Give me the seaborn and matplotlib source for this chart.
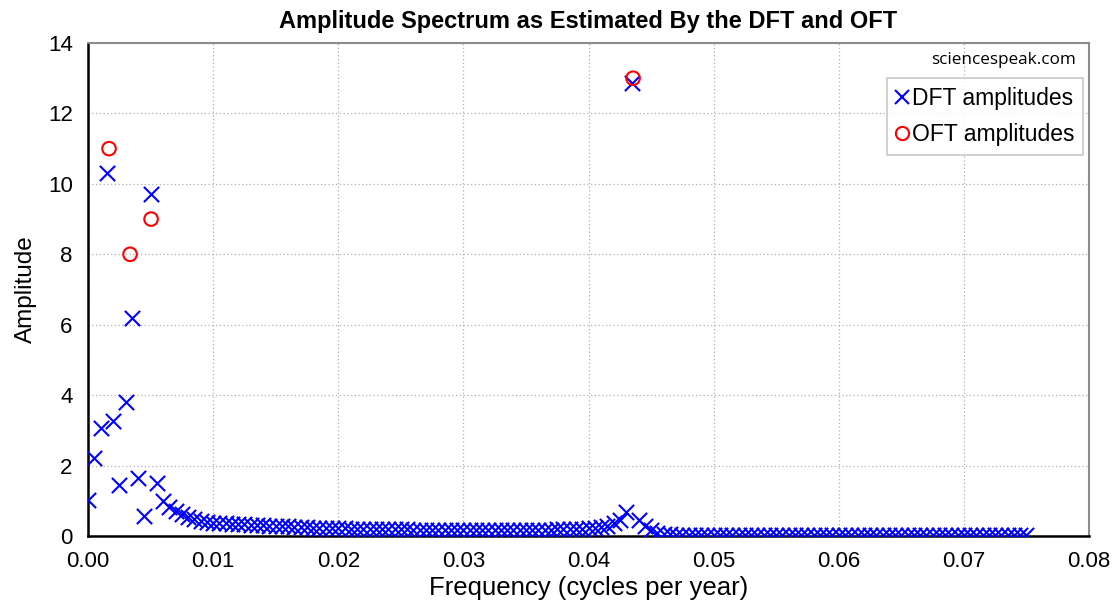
import numpy as np
import pandas as pd
import matplotlib
matplotlib.use("Agg")
import matplotlib.pyplot as plt
from matplotlib.lines import Line2D
from matplotlib.ticker import MultipleLocator, FormatStrFormatter
import seaborn as sns

# ---- data ----
freq_step = 0.0005
dft_amplitudes = [
    1.03, 2.22, 3.07, 10.3, 3.27, 1.45, 3.80, 6.18, 1.65, 0.58,
    9.70, 1.51, 1.00, 0.83, 0.72, 0.63, 0.55, 0.49, 0.44, 0.40,
    0.38, 0.37, 0.36, 0.35, 0.34, 0.33, 0.32, 0.31, 0.30, 0.29,
    0.28, 0.27, 0.27, 0.26, 0.25, 0.25, 0.24, 0.24, 0.23, 0.23,
    0.22, 0.22, 0.21, 0.21, 0.21, 0.20, 0.20, 0.20, 0.19, 0.19,
    0.19, 0.19, 0.18, 0.18, 0.18, 0.18, 0.18, 0.17, 0.17, 0.17,
    0.17, 0.17, 0.17, 0.17, 0.17, 0.17, 0.17, 0.17, 0.17, 0.17,
    0.17, 0.17, 0.18, 0.18, 0.18, 0.19, 0.19, 0.20, 0.20, 0.21,
    0.22, 0.23, 0.25, 0.28, 0.36, 0.46, 0.67, 12.85, 0.45, 0.27,
    0.16, 0.09, 0.06, 0.05, 0.04, 0.04, 0.04, 0.04, 0.04, 0.04,
    0.04, 0.04, 0.04, 0.04, 0.04, 0.04, 0.04, 0.04, 0.04, 0.04,
    0.04, 0.04, 0.04, 0.04, 0.04, 0.04, 0.04, 0.04, 0.04, 0.04,
    0.04, 0.04, 0.04, 0.04, 0.04, 0.04, 0.04, 0.04, 0.04, 0.04,
    0.04, 0.04, 0.04, 0.04, 0.04, 0.04, 0.04, 0.04, 0.04, 0.04,
    0.04, 0.04, 0.04, 0.04, 0.04, 0.04, 0.04, 0.04, 0.04, 0.04,
    0.04,
]
dft_freqs = [round(i * freq_step, 4) for i in range(len(dft_amplitudes))]

oft_freqs = [0.00168, 0.00336, 0.00504, 0.04356]
oft_amplitudes = [11.0, 8.0, 9.0, 13.0]

title = "Amplitude Spectrum as Estimated By the DFT and OFT"
xlabel = "Frequency (cycles per year)"
ylabel = "Amplitude"
labels = ["DFT amplitudes", "OFT amplitudes"]
watermark = "sciencespeak.com"

dft_df = pd.DataFrame({"freq": dft_freqs, "amp": dft_amplitudes})
oft_df = pd.DataFrame({"freq": oft_freqs, "amp": oft_amplitudes})

# ---- style ----
sns.set_style("white")
plt.rcParams["font.family"] = ["Liberation Sans", "DejaVu Sans"]
plt.rcParams["text.color"] = "black"
plt.rcParams["axes.labelcolor"] = "black"

fig = plt.figure(figsize=(11.16, 6.10), dpi=100)
ax = fig.add_axes([88 / 1116, 1 - 536 / 610, (1089 - 88) / 1116, (536 - 43) / 610])

sns.scatterplot(data=dft_df, x="freq", y="amp", marker="x", color="#0000FF",
                s=120, linewidth=1.5, ax=ax, zorder=3, legend=False)
sns.scatterplot(data=oft_df, x="freq", y="amp", marker="o", facecolors="none",
                edgecolor="#FF0000", s=95, linewidth=1.5, ax=ax, zorder=4, legend=False)

ax.set_xlim(0, 0.08)
ax.set_ylim(0, 14)
ax.xaxis.set_major_locator(MultipleLocator(0.01))
ax.xaxis.set_minor_locator(MultipleLocator(0.002))
ax.yaxis.set_major_locator(MultipleLocator(2))
ax.yaxis.set_minor_locator(MultipleLocator(0.4))
ax.xaxis.set_major_formatter(FormatStrFormatter("%.2f"))
ax.yaxis.set_major_formatter(FormatStrFormatter("%d"))

ax.grid(True, which="major", linestyle=(0, (1, 2)), color="#B0B0B0", linewidth=0.9)
ax.set_axisbelow(True)

ax.tick_params(axis="both", which="major", labelsize=16, colors="black", pad=6)
ax.tick_params(axis="both", which="minor", direction="in", length=5, width=1.0)
ax.tick_params(axis="x", which="major", direction="inout", length=10, width=1.2)
ax.tick_params(axis="y", which="major", direction="out", length=5, width=1.2)

for side in ["left", "bottom"]:
    ax.spines[side].set_color("black")
    ax.spines[side].set_linewidth(1.8)
for side in ["top", "right"]:
    ax.spines[side].set_color("#8C8C8C")
    ax.spines[side].set_linewidth(1.5)
    ax.spines[side].set_visible(True)

ax.set_xlabel(xlabel, fontsize=18.5, labelpad=3, color="black")
ax.set_ylabel(ylabel, fontsize=17.5, labelpad=8, color="black")
ax.set_title(title, fontsize=17, fontweight="bold", pad=11, color="black")

handles = [
    Line2D([], [], marker="x", color="#0000FF", linestyle="", markersize=10, markeredgewidth=1.5),
    Line2D([], [], marker="o", markerfacecolor="none", markeredgecolor="#FF0000",
           linestyle="", markersize=9.5, markeredgewidth=1.5),
]
leg = ax.legend(handles, labels, loc="upper right", bbox_to_anchor=(0.9945, 0.929),
                fontsize=16.5, frameon=True, fancybox=False, edgecolor="#BBBBBB",
                handlelength=0.55, handletextpad=0.15, borderpad=0.4, labelspacing=0.55,
                borderaxespad=0.0)
leg.get_frame().set_linewidth(1.2)
for t in leg.get_texts():
    t.set_color("black")

ax.text(0.987, 0.965, watermark, transform=ax.transAxes, ha="right", va="center",
        fontsize=12.3, family=["Open Sans", "DejaVu Sans"], color="black")

fig.savefig("out.png", dpi=100)
